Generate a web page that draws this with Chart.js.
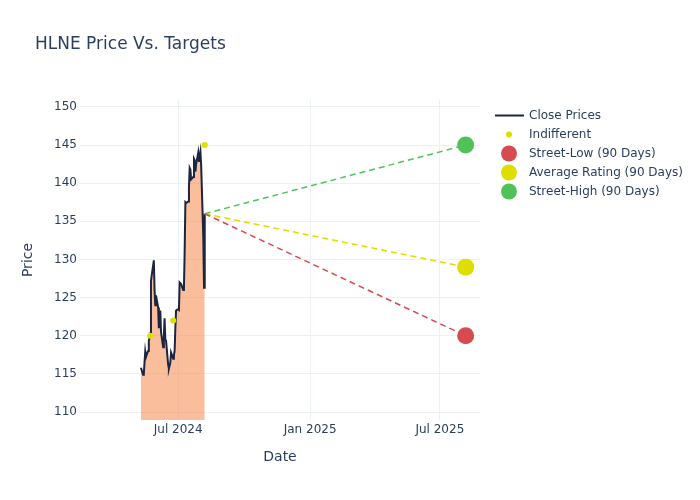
<!DOCTYPE html>
<html>
<head>
<meta charset="utf-8">
<script src="https://cdn.jsdelivr.net/npm/chart.js@4.4.1/dist/chart.umd.min.js"></script>
<style>
  html, body { margin: 0; padding: 0; background: #fff; }
  #wrap { width: 700px; height: 500px; position: relative; }
</style>
</head>
<body>
<div id="wrap"><canvas id="c" width="700" height="500"></canvas></div>
<script>
// ---- DATA ----
const closeDates = [
  "2024-05-10","2024-05-13","2024-05-14","2024-05-15","2024-05-16","2024-05-17",
  "2024-05-20","2024-05-21","2024-05-22","2024-05-23","2024-05-24",
  "2024-05-28","2024-05-29","2024-05-30","2024-05-31",
  "2024-06-03","2024-06-04","2024-06-05","2024-06-06","2024-06-07",
  "2024-06-10","2024-06-11","2024-06-12","2024-06-13","2024-06-14",
  "2024-06-17","2024-06-18","2024-06-20","2024-06-21",
  "2024-06-24","2024-06-25","2024-06-26","2024-06-27","2024-06-28",
  "2024-07-01","2024-07-02","2024-07-03","2024-07-05",
  "2024-07-08","2024-07-09","2024-07-10","2024-07-11","2024-07-12",
  "2024-07-15","2024-07-16","2024-07-17","2024-07-18","2024-07-19",
  "2024-07-22","2024-07-23","2024-07-24","2024-07-25","2024-07-26",
  "2024-07-29","2024-07-30","2024-07-31","2024-08-01","2024-08-02",
  "2024-08-05","2024-08-06","2024-08-07"
];
const closePrices = [
  115.8,114.9,115.0,116.5,117.9,117.2,
  118.0,119.3,119.8,120.3,127.2,
  129.9,126.0,124.0,125.3,
  123.7,121.0,122.4,123.3,120.5,
  118.5,120.0,122.3,119.5,119.4,
  116.2,115.7,116.5,117.8,
  117.0,117.5,118.0,121.0,123.3,
  123.5,123.4,127.0,126.8,
  126.0,126.3,131.0,137.5,137.4,
  137.6,139.5,142.0,141.8,140.5,
  140.8,143.2,143.0,141.5,142.5,
  144.0,142.8,143.5,144.1,142.4,
  133.0,126.3,136.0
];
const indifferentDates = ["2024-05-23","2024-06-24","2024-08-07"];
const indifferentPrices = [120, 122, 145];

const targetStartDate = "2024-08-07";
const targetStartPrice = 136.0;
const targetDate = "2025-08-06";
const streetLow = 120;
const averageRating = 129;
const streetHigh = 145;

const xTickDates = ["2024-07-01","2025-01-01","2025-07-01"];
const xTickLabels = ["Jul 2024","Jan 2025","Jul 2025"];
const yTicks = [110,115,120,125,130,135,140,145,150];

const xRange = ["2024-02-15","2025-08-26"];
const yRange = [108.96, 150.91];

// ---- helpers ----
const t = s => Date.parse(s + "T00:00:00Z");
const FONT = "'DejaVu Sans', 'Open Sans', sans-serif";
const TXT = "#2a3f5f";
const GRID = "#ebf0f8";

const closeData = closeDates.map((d, i) => ({x: t(d), y: closePrices[i]}));
const indData = indifferentDates.map((d, i) => ({x: t(d), y: indifferentPrices[i]}));

const RED = "#d64b50", YEL = "#dede00", GRN = "#50c25a";

const datasets = [
  { label: "Close Prices", type: "line", data: closeData, borderColor: "#1c2540", borderWidth: 2,
    backgroundColor: "rgba(245,125,60,0.5)", fill: "start", pointRadius: 0, tension: 0, order: 5,
    legend: {kind: "line", color: "#1c2540"} },
  { label: "Indifferent", type: "scatter", data: indData, backgroundColor: YEL, borderColor: YEL,
    pointRadius: 3, pointBorderWidth: 0, order: 1, legend: {kind: "dot", r: 3, color: YEL} },
  { label: "_low", type: "line", data: [{x: t(targetStartDate), y: targetStartPrice}, {x: t(targetDate), y: streetLow}],
    borderColor: RED, borderWidth: 1.5, borderDash: [6, 4], pointRadius: 0, fill: false, order: 3 },
  { label: "_avg", type: "line", data: [{x: t(targetStartDate), y: targetStartPrice}, {x: t(targetDate), y: averageRating}],
    borderColor: YEL, borderWidth: 1.5, borderDash: [6, 4], pointRadius: 0, fill: false, order: 3 },
  { label: "_high", type: "line", data: [{x: t(targetStartDate), y: targetStartPrice}, {x: t(targetDate), y: streetHigh}],
    borderColor: GRN, borderWidth: 1.5, borderDash: [6, 4], pointRadius: 0, fill: false, order: 3 },
  { label: "Street-Low (90 Days)", type: "scatter", data: [{x: t(targetDate), y: streetLow}],
    backgroundColor: RED, pointRadius: 8.5, pointBorderWidth: 0, order: 0, legend: {kind: "dot", r: 8, color: RED} },
  { label: "Average Rating (90 Days)", type: "scatter", data: [{x: t(targetDate), y: averageRating}],
    backgroundColor: YEL, pointRadius: 8.5, pointBorderWidth: 0, order: 0, legend: {kind: "dot", r: 8, color: YEL} },
  { label: "Street-High (90 Days)", type: "scatter", data: [{x: t(targetDate), y: streetHigh}],
    backgroundColor: GRN, pointRadius: 8.5, pointBorderWidth: 0, order: 0, legend: {kind: "dot", r: 8, color: GRN} }
];

const decor = {
  id: "decor",
  afterDraw(chart) {
    const ctx = chart.ctx;
    const ca = chart.chartArea;
    ctx.save();
    // title
    ctx.fillStyle = TXT;
    ctx.font = "17px " + FONT;
    ctx.textAlign = "left";
    ctx.textBaseline = "middle";
    ctx.fillText("HLNE Price Vs. Targets", 35, 45);
    // axis titles
    ctx.font = "14px " + FONT;
    ctx.textAlign = "center";
    ctx.fillText("Date", (ca.left + ca.right) / 2, 457);
    ctx.save();
    ctx.translate(28, (ca.top + ca.bottom) / 2);
    ctx.rotate(-Math.PI / 2);
    ctx.fillText("Price", 0, 0);
    ctx.restore();
    // legend
    ctx.font = "12px " + FONT;
    ctx.textAlign = "left";
    let y = 115.5;
    chart.data.datasets.forEach(ds => {
      if (!ds.legend) return;
      const L = ds.legend;
      if (L.kind === "line") {
        ctx.strokeStyle = L.color; ctx.lineWidth = 2;
        ctx.beginPath(); ctx.moveTo(495, y); ctx.lineTo(524, y); ctx.stroke();
      } else {
        ctx.fillStyle = L.color;
        ctx.beginPath(); ctx.arc(509, y, L.r, 0, Math.PI * 2); ctx.fill();
      }
      ctx.fillStyle = TXT;
      ctx.fillText(ds.label, 529, y);
      y += 19;
    });
    ctx.restore();
  }
};

new Chart(document.getElementById("c"), {
  type: "line",
  data: { datasets },
  options: {
    responsive: false,
    animation: false,
    layout: { padding: { left: 0, right: 220, top: 100, bottom: 0 } },
    plugins: { legend: { display: false }, title: { display: false }, tooltip: { enabled: false } },
    scales: {
      x: {
        type: "linear",
        min: t(xRange[0]), max: t(xRange[1]),
        grid: { color: GRID, drawTicks: false },
        border: { display: false },
        afterBuildTicks: s => { s.ticks = xTickDates.map(d => ({ value: t(d) })); },
        afterFit: s => { s.height = 80; },
        ticks: {
          padding: 3, color: TXT, font: { family: FONT, size: 12 }, maxRotation: 0, autoSkip: false,
          callback: (v) => { const i = xTickDates.findIndex(d => t(d) === v); return i >= 0 ? xTickLabels[i] : ""; }
        }
      },
      y: {
        type: "linear",
        min: yRange[0], max: yRange[1],
        grid: { color: GRID, drawTicks: false },
        border: { display: false },
        afterBuildTicks: s => { s.ticks = yTicks.map(v => ({ value: v })); },
        afterFit: s => { s.width = 80; },
        ticks: { padding: 3, color: TXT, font: { family: FONT, size: 12 } }
      }
    }
  },
  plugins: [decor]
});
</script>
</body>
</html>
